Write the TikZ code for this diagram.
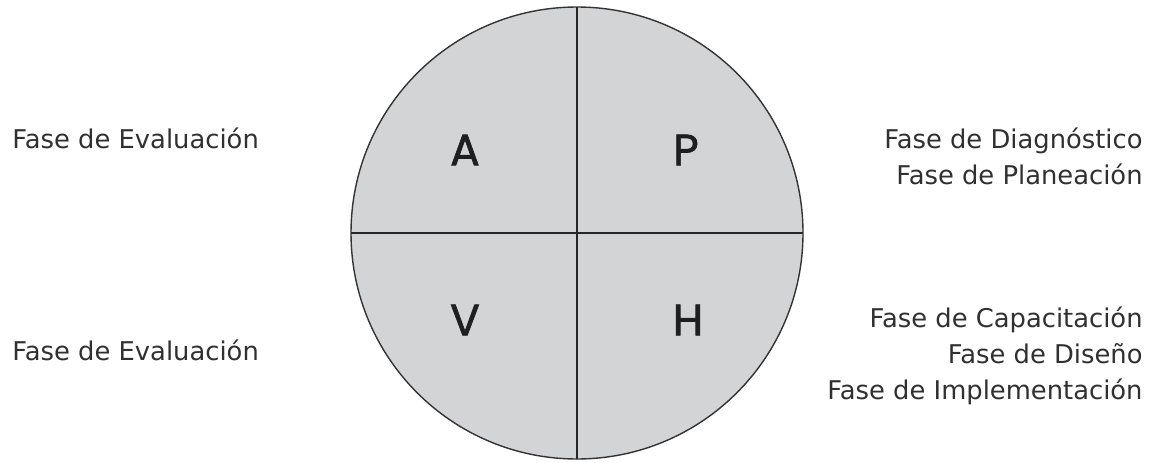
\documentclass[tikz,border=0pt]{standalone}
\usepackage{fontspec}
\setmainfont{DejaVu Sans}
\newfontfamily\letterfont[FakeBold=1.5]{Poppins}
\usetikzlibrary{positioning}
\definecolor{discfill}{HTML}{D3D4D6}
\definecolor{phasetext}{HTML}{303030}

\begin{document}
\begin{tikzpicture}[x=0.5pt,y=0.5pt,
  fase/.style={font=\fontsize{12.9}{18}\selectfont,text=phasetext,inner sep=0pt},
  letra/.style={font=\letterfont\fontsize{22}{22}\selectfont,text=black!88}]
\useasboundingbox (0,0) rectangle (1167,462);
\node[circle,draw=black!80,line width=0.7pt,fill=discfill,minimum size=226pt,inner sep=0pt,outer sep=0pt] (disc) at (577,229) {};
\draw[black!85,line width=0.6pt] (disc.north) -- (disc.south);
\draw[black!85,line width=0.6pt] (disc.west) -- (disc.east);
\node[letra] (a) at (465,312) {A};
\node[letra] (p) at (686,312) {P};
\node[letra] (v) at (465,142) {V};
\node[letra] (h) at (688,142) {H};
\node[fase,anchor=west] (evalA) at (12,324) {Fase de Evaluación};
\node[fase,anchor=west] (evalV) at (12,112) {Fase de Evaluación};
\node[fase,anchor=east,align=right] (planP) at (1143,305.5) {Fase de Diagnóstico\\Fase de Planeación};
\node[fase,anchor=east,align=right] (hacerH) at (1143,106) {Fase de Capacitación\\Fase de Diseño\\Fase de Implementación};
\end{tikzpicture}
\end{document}
